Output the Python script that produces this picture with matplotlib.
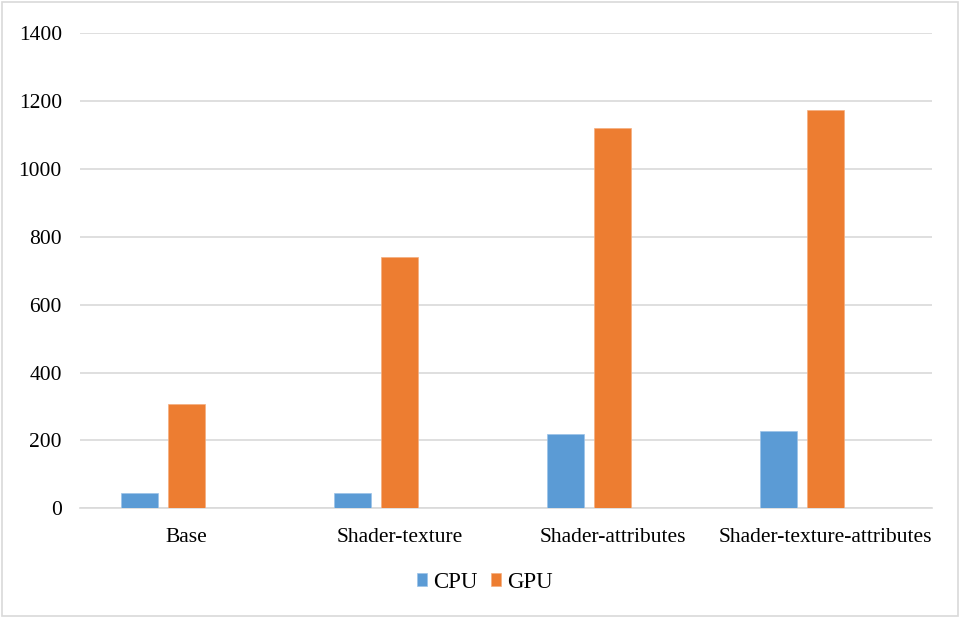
import matplotlib.pyplot as plt
from matplotlib.patches import Rectangle
import numpy as np

plt.rcParams['font.family'] = ['Liberation Serif', 'DejaVu Serif']
plt.rcParams['font.size'] = 15.5

categories = ['Base', 'Shader-texture', 'Shader-attributes', 'Shader-texture-attributes']
cpu = [44, 45, 219, 228]
gpu = [308, 741, 1121, 1174]

fig = plt.figure(figsize=(9.6, 6.18), dpi=100)
ax = fig.add_axes([0.0833, 0.1775, 0.8875, 0.769])

# chart area border
fig.patches.append(Rectangle((0.002, 0.003), 0.996, 0.994, transform=fig.transFigure,
                             fill=False, edgecolor='#d9d9d9', linewidth=1.2))

x = np.arange(len(categories))
w = 0.172
ax.bar(x - 0.22, cpu, w, color='#5B9BD5', edgecolor='#9cc3e8', linewidth=0.5, label='CPU', zorder=3)
ax.bar(x, gpu, w, color='#ED7D31', edgecolor='#f4ae80', linewidth=0.5, label='GPU', zorder=3)

ax.set_xlim(-0.5, 3.5)
ax.set_ylim(0, 1400)
ax.set_yticks(np.arange(0, 1401, 200))
ax.set_xticks(x)
ax.set_xticklabels(categories)
ax.yaxis.grid(True, color='#d9d9d9', linewidth=1.2, zorder=0)
ax.tick_params(axis='both', length=0)
ax.tick_params(axis='y', pad=13)
ax.tick_params(axis='x', pad=14)
for s in ['top', 'right', 'left']:
    ax.spines[s].set_visible(False)
ax.spines['bottom'].set_color('#d9d9d9')
ax.spines['bottom'].set_linewidth(1.2)

fig.legend(loc='center', bbox_to_anchor=(0.505, 0.058), ncol=2, frameon=False, fontsize=16.5,
           handlelength=0.45, handleheight=0.45, handletextpad=0.25, columnspacing=0.6)

fig.savefig('out.png', dpi=100)
